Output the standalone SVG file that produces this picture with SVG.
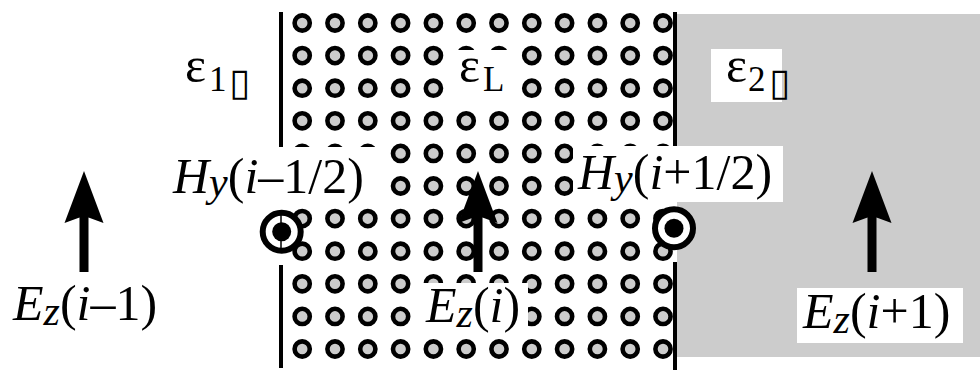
<svg xmlns="http://www.w3.org/2000/svg" width="980" height="370" viewBox="0 0 980 370">
<defs>
<g id="row" fill="#ccc" stroke="#000" stroke-width="4.6">
<circle cx="302.2" cy="23" r="7.6"/>
<circle cx="335.0" cy="23" r="7.6"/>
<circle cx="367.8" cy="23" r="7.6"/>
<circle cx="400.6" cy="23" r="7.6"/>
<circle cx="433.4" cy="23" r="7.6"/>
<circle cx="466.2" cy="23" r="7.6"/>
<circle cx="499.0" cy="23" r="7.6"/>
<circle cx="531.8" cy="23" r="7.6"/>
<circle cx="564.6" cy="23" r="7.6"/>
<circle cx="597.4" cy="23" r="7.6"/>
<circle cx="630.2" cy="23" r="7.6"/>
<circle cx="663.0" cy="23" r="7.6"/>
</g>
<path id="arr" d="M0,171 L19.5,223 L4.5,217.5 L4.5,272 L-4.5,272 L-4.5,217.5 L-19.5,223 Z" fill="#000"/>
</defs>
<rect width="980" height="370" fill="#fff"/>
<rect id="region2" x="677" y="14" width="303" height="343" fill="#ccc"/>
<g id="lattice">
<use href="#row" y="0"/>
<use href="#row" y="32.6"/>
<use href="#row" y="65.2"/>
<use href="#row" y="97.8"/>
<use href="#row" y="130.4"/>
<use href="#row" y="163"/>
<use href="#row" y="195.6"/>
<use href="#row" y="228.2"/>
<use href="#row" y="260.8"/>
<use href="#row" y="293.4"/>
<use href="#row" y="326"/>
</g>
<g id="walls" stroke="#000" stroke-width="4">
<line x1="281" y1="12" x2="281" y2="150"/>
<line x1="281" y1="265" x2="281" y2="368"/>
<line x1="675" y1="12" x2="675" y2="147"/>
<line x1="675" y1="262" x2="675" y2="370"/>
</g>
<g id="masks" fill="#fff">
<rect x="444" y="50" width="77" height="55"/>
<rect x="711" y="49" width="71" height="53"/>
<rect x="168" y="147" width="214" height="58"/>
<rect x="573" y="146" width="210" height="56"/>
<rect x="412" y="283" width="116" height="53"/>
<rect x="797" y="288" width="166" height="55"/>
</g>
<g id="labels" font-family="Liberation Serif, serif" font-size="50" fill="#000">
<text id="eps1" x="185" y="82">ε<tspan font-size="35" x="209" y="91">1</tspan><tspan font-family="DejaVu Sans, sans-serif" font-size="38" x="229" y="95">▯</tspan></text>
<text id="epsL" x="459" y="82">ε<tspan font-size="35" x="483" y="91">L</tspan></text>
<text id="eps2" x="726" y="82">ε<tspan font-size="35" x="748" y="91">2</tspan><tspan font-family="DejaVu Sans, sans-serif" font-size="38" x="769" y="95">▯</tspan></text>
<text id="hy_left" x="173" y="193"><tspan font-style="italic">H</tspan><tspan font-style="italic" font-size="42" dy="3">y</tspan><tspan dy="-3">(</tspan><tspan font-style="italic">i</tspan>–1/2)</text>
<text id="hy_right" x="578" y="188.5"><tspan font-style="italic">H</tspan><tspan font-style="italic" font-size="42" dy="3">y</tspan><tspan dy="-3">(</tspan><tspan font-style="italic">i</tspan>+1/2)</text>
<text id="ez_left" x="13" y="320"><tspan font-style="italic">E</tspan><tspan font-style="italic" font-size="42" dy="5">z</tspan><tspan dy="-5">(</tspan><tspan font-style="italic">i</tspan>–1)</text>
<text id="ez_mid" x="426" y="321.7"><tspan font-style="italic">E</tspan><tspan font-style="italic" font-size="42" dy="5">z</tspan><tspan dy="-5">(</tspan><tspan font-style="italic">i</tspan>)</text>
<text id="ez_right" x="803" y="328.3"><tspan font-style="italic">E</tspan><tspan font-style="italic" font-size="42" dy="5">z</tspan><tspan dy="-5">(</tspan><tspan font-style="italic">i</tspan>+1)</text>
</g>
<g id="hfields">
<circle cx="281.7" cy="231.7" r="19" fill="#fff" stroke="#000" stroke-width="6"/>
<line x1="281" y1="211" x2="281" y2="253" stroke="#000" stroke-width="1.5"/>
<circle cx="281.7" cy="231.7" r="9.5" fill="#000"/>
<circle cx="674" cy="228.3" r="19" fill="#fff" stroke="#000" stroke-width="6"/>
<circle cx="674" cy="228.3" r="9.5" fill="#000"/>
</g>
<g id="efields">
<use href="#arr" x="84"/>
<use href="#arr" x="478"/>
<use href="#arr" x="872"/>
</g>
</svg>
